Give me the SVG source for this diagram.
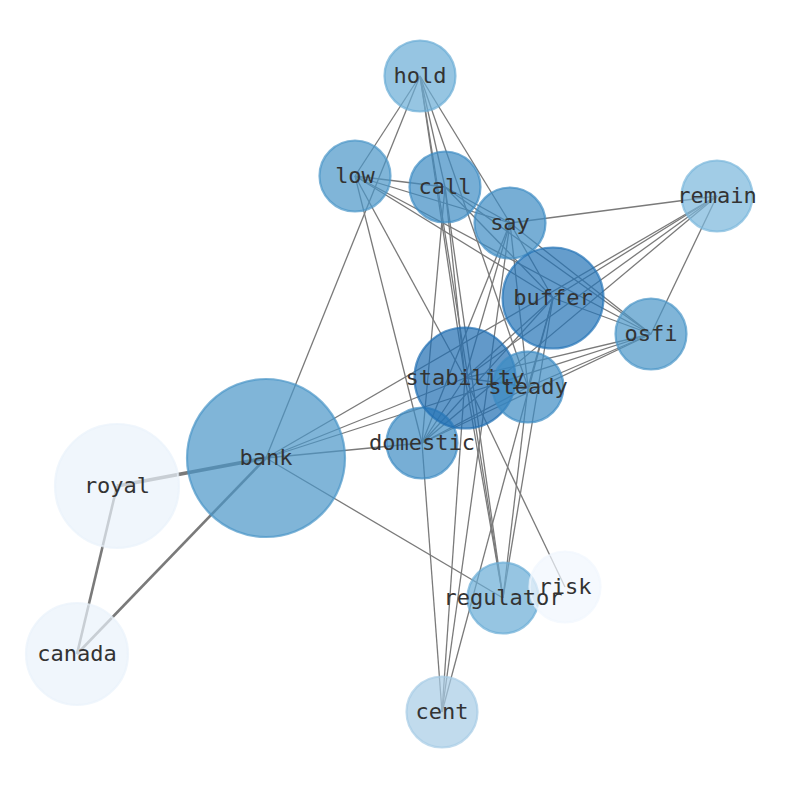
<svg xmlns="http://www.w3.org/2000/svg" width="794" height="790" viewBox="0 0 794 790">
<style>
.e{stroke:#7a7a7a;stroke-width:1.3;fill:none}
.n circle{stroke-width:2.2;fill-opacity:0.7;stroke-opacity:0.7}
.n text{font-family:"DejaVu Sans Mono","Liberation Mono",monospace;font-size:22px;fill:#333333;text-anchor:middle;dominant-baseline:central}
.c1 circle{fill:#4a95c8;stroke:#4a95c8}
.c2 circle{fill:#3d8bc3;stroke:#3d8bc3}
.c3 circle{fill:#2474b7;stroke:#2474b7}
.c4 circle{fill:#1f6db2;stroke:#1f6db2}
.c5 circle{fill:#6aadd6;stroke:#6aadd6}
.c6 circle{fill:#79b6db;stroke:#79b6db}
.c7 circle{fill:#a6cce5;stroke:#a6cce5}
.c8 circle{fill:#eaf2fb;stroke:#eaf2fb}
.c9 circle{fill:#f1f7fe;stroke:#f1f7fe}
</style>
<rect width="794" height="790" fill="#ffffff"/>
<g id="edges">
<line class="e" x1="266" y1="458" x2="117" y2="486" style="stroke-width:3.6"/>
<line class="e" x1="266" y1="458" x2="77" y2="654" style="stroke-width:2.6"/>
<line class="e" x1="117" y1="486" x2="77" y2="654" style="stroke-width:2.6"/>
<line class="e" x1="266" y1="458" x2="420" y2="76"/>
<line class="e" x1="266" y1="458" x2="503" y2="598"/>
<line class="e" x1="266" y1="458" x2="717" y2="196"/>
<line class="e" x1="266" y1="458" x2="465" y2="378"/>
<line class="e" x1="266" y1="458" x2="651" y2="334"/>
<line class="e" x1="266" y1="458" x2="422" y2="443"/>
<line class="e" x1="420" y1="76" x2="355" y2="176"/>
<line class="e" x1="420" y1="76" x2="445" y2="187"/>
<line class="e" x1="420" y1="76" x2="510" y2="223"/>
<line class="e" x1="420" y1="76" x2="465" y2="378"/>
<line class="e" x1="420" y1="76" x2="503" y2="598"/>
<line class="e" x1="420" y1="76" x2="528" y2="387"/>
<line class="e" x1="355" y1="176" x2="445" y2="187"/>
<line class="e" x1="355" y1="176" x2="510" y2="223"/>
<line class="e" x1="355" y1="176" x2="553" y2="298"/>
<line class="e" x1="355" y1="176" x2="651" y2="334"/>
<line class="e" x1="355" y1="176" x2="422" y2="443"/>
<line class="e" x1="355" y1="176" x2="465" y2="378"/>
<line class="e" x1="445" y1="187" x2="510" y2="223"/>
<line class="e" x1="445" y1="187" x2="553" y2="298"/>
<line class="e" x1="445" y1="187" x2="651" y2="334"/>
<line class="e" x1="445" y1="187" x2="422" y2="443"/>
<line class="e" x1="445" y1="187" x2="465" y2="378"/>
<line class="e" x1="445" y1="187" x2="503" y2="598"/>
<line class="e" x1="510" y1="223" x2="717" y2="196"/>
<line class="e" x1="510" y1="223" x2="651" y2="334"/>
<line class="e" x1="510" y1="223" x2="553" y2="298"/>
<line class="e" x1="510" y1="223" x2="465" y2="378"/>
<line class="e" x1="510" y1="223" x2="528" y2="387"/>
<line class="e" x1="510" y1="223" x2="422" y2="443"/>
<line class="e" x1="510" y1="223" x2="442" y2="712"/>
<line class="e" x1="717" y1="196" x2="553" y2="298"/>
<line class="e" x1="717" y1="196" x2="465" y2="378"/>
<line class="e" x1="717" y1="196" x2="422" y2="443"/>
<line class="e" x1="717" y1="196" x2="651" y2="334"/>
<line class="e" x1="553" y1="298" x2="651" y2="334"/>
<line class="e" x1="553" y1="298" x2="465" y2="378"/>
<line class="e" x1="553" y1="298" x2="528" y2="387"/>
<line class="e" x1="553" y1="298" x2="422" y2="443"/>
<line class="e" x1="553" y1="298" x2="503" y2="598"/>
<line class="e" x1="553" y1="298" x2="442" y2="712"/>
<line class="e" x1="651" y1="334" x2="528" y2="387"/>
<line class="e" x1="651" y1="334" x2="422" y2="443"/>
<line class="e" x1="651" y1="334" x2="465" y2="378"/>
<line class="e" x1="465" y1="378" x2="528" y2="387"/>
<line class="e" x1="465" y1="378" x2="422" y2="443"/>
<line class="e" x1="465" y1="378" x2="503" y2="598"/>
<line class="e" x1="465" y1="378" x2="442" y2="712"/>
<line class="e" x1="465" y1="378" x2="565" y2="587"/>
<line class="e" x1="528" y1="387" x2="422" y2="443"/>
<line class="e" x1="528" y1="387" x2="503" y2="598"/>
<line class="e" x1="422" y1="443" x2="442" y2="712"/>
</g>
<g id="node-bank" class="n c1"><circle cx="266" cy="458" r="79"/></g>
<g id="node-royal" class="n c8"><circle cx="117" cy="486" r="62"/></g>
<g id="node-canada" class="n c8"><circle cx="77" cy="654" r="51"/></g>
<g id="node-hold" class="n c5"><circle cx="420" cy="76" r="35.5"/></g>
<g id="node-low" class="n c1"><circle cx="355" cy="176" r="35.5"/></g>
<g id="node-call" class="n c2"><circle cx="445" cy="187" r="35.5"/></g>
<g id="node-say" class="n c2"><circle cx="510" cy="223" r="35.5"/></g>
<g id="node-remain" class="n c6"><circle cx="717" cy="196" r="35.5"/></g>
<g id="node-buffer" class="n c3"><circle cx="553" cy="298" r="50.5"/></g>
<g id="node-osfi" class="n c1"><circle cx="651" cy="334" r="35.5"/></g>
<g id="node-domestic" class="n c2"><circle cx="422" cy="443" r="35.5"/></g>
<g id="node-stability" class="n c4"><circle cx="465" cy="378" r="50.5"/></g>
<g id="node-steady" class="n c2"><circle cx="528" cy="387" r="35.5"/></g>
<g id="node-regulator" class="n c5"><circle cx="503" cy="598" r="35.5"/></g>
<g id="node-risk" class="n c9"><circle cx="565" cy="587" r="35.5"/></g>
<g id="node-cent" class="n c7"><circle cx="442" cy="712" r="35.5"/></g>
<g id="labels" class="n">
<text x="266" y="457">bank</text>
<text x="117" y="485">royal</text>
<text x="77" y="653">canada</text>
<text x="420" y="75">hold</text>
<text x="355" y="175">low</text>
<text x="445" y="186">call</text>
<text x="510" y="222">say</text>
<text x="717" y="195">remain</text>
<text x="553" y="297">buffer</text>
<text x="651" y="333">osfi</text>
<text x="422" y="442">domestic</text>
<text x="465" y="377">stability</text>
<text x="528" y="386">steady</text>
<text x="503" y="597">regulator</text>
<text x="565" y="586">risk</text>
<text x="442" y="711">cent</text>
</g>
</svg>
